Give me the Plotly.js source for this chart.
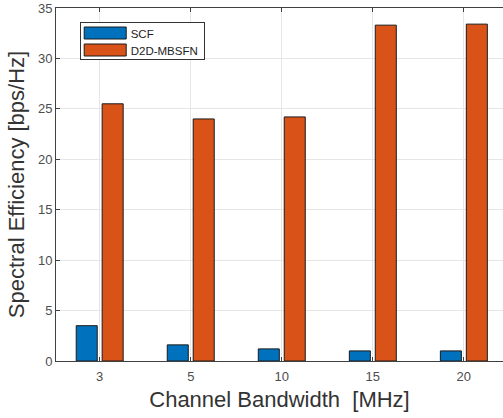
<!DOCTYPE html>
<html>
<head>
<meta charset="utf-8">
<script src="https://cdn.plot.ly/plotly-3.0.1.min.js"></script>
<style>html,body{margin:0;padding:0;background:#fff;}#chart{width:503px;height:418px;}</style>
</head>
<body>
<div id="chart"></div>
<script>
const categories = ["3", "5", "10", "15", "20"];
const seriesNames = ["SCF", "D2D-MBSFN"];
const scfValues = [3.5, 1.6, 1.2, 1.0, 1.0];
const d2dValues = [25.5, 24.0, 24.2, 33.3, 33.4];
const yTicks = [0, 5, 10, 15, 20, 25, 30, 35];

const font = "Liberation Sans, Arial, Helvetica, sans-serif";

const traces = [
  {type: "bar", name: seriesNames[0], x: categories, y: scfValues,
   marker: {color: "#0072BD", line: {color: "#1a1a1a", width: 1}}},
  {type: "bar", name: seriesNames[1], x: categories, y: d2dValues,
   marker: {color: "#D95319", line: {color: "#1a1a1a", width: 1}}}
];

const layout = {
  width: 503, height: 418,
  margin: {l: 56, r: 0, t: 8, b: 57},
  paper_bgcolor: "#fff", plot_bgcolor: "#fff",
  barmode: "group", bargap: 0.43, bargroupgap: 0.19,
  font: {family: font, color: "#4d4d4d"},
  xaxis: {
    type: "category", categoryorder: "array", categoryarray: categories,
    range: [-0.48, 4.43],
    showgrid: true, gridcolor: "#e6e6e6", gridwidth: 1,
    showline: true, linecolor: "#404040", linewidth: 1, mirror: "ticks",
    ticks: "inside", ticklen: 4, tickcolor: "#404040",
    tickfont: {size: 13, color: "#4d4d4d"}, ticklabelstandoff: 3,
    title: {text: "Channel Bandwidth\u00a0 [MHz]", font: {size: 22, color: "#333"}, standoff: 9},
    zeroline: false, fixedrange: true
  },
  yaxis: {
    range: [0, 35], tickvals: yTicks, ticktext: yTicks.map(String),
    showgrid: true, gridcolor: "#e6e6e6", gridwidth: 1,
    showline: true, linecolor: "#404040", linewidth: 1,
    ticks: "inside", ticklen: 4, tickcolor: "#404040",
    tickfont: {size: 13, color: "#4d4d4d"},
    title: {text: "Spectral Efficiency [bps/Hz]", font: {size: 22, color: "#333"}, standoff: 7},
    zeroline: false, fixedrange: true
  },
  showlegend: true,
  legend: {
    x: 0.053, y: 0.96, xanchor: "left", yanchor: "top",
    bgcolor: "#fff", bordercolor: "#333", borderwidth: 1,
    font: {size: 11.5, color: "#222"},
    itemwidth: 40, tracegroupgap: 0, traceorder: "normal"
  }
};

Plotly.newPlot("chart", traces, layout, {staticPlot: true, displayModeBar: false}).then(function (gd) {
  // MATLAB-style legend: wide patches, compact rows
  const bg = gd.querySelector(".legend rect.bg");
  if (!bg) return;
  const rootBox = gd.getBoundingClientRect();
  const bgBox = bg.getBoundingClientRect();
  const rowCenters = [33, 50];
  gd.querySelectorAll(".legend g.traces").forEach(function (tr, i) {
    const p = tr.querySelector(".legendpoints path");
    if (!p) return;
    const ctm = p.getScreenCTM();
    const left = bgBox.left + 4 - ctm.e;
    const right = bgBox.left + 46 - ctm.e;
    p.setAttribute("d", "M" + left + ",6H" + right + "V-6H" + left + "Z");
    const dy = (rootBox.top + rowCenters[i]) - ctm.f;
    tr.setAttribute("transform", (tr.getAttribute("transform") || "") + " translate(0," + dy + ")");
  });
  const bctm = bg.getScreenCTM();
  bg.setAttribute("y", (rootBox.top + 22) - bctm.f);
  bg.setAttribute("height", 37);
  const bw = bgBox.width;
  bg.setAttribute("width", Math.min(bw, 127));
});
</script>
</body>
</html>
